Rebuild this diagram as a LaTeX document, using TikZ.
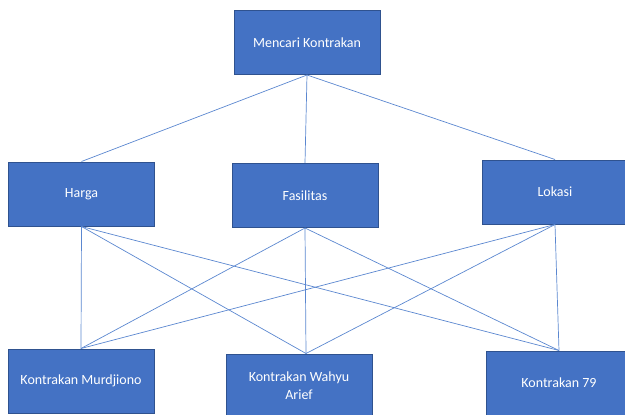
\documentclass[tikz,border=0pt]{standalone}
\usepackage{fontspec}
\setmainfont{Carlito}
\usepackage{tikz}
\usetikzlibrary{positioning}

\definecolor{boxblue}{HTML}{4472C4}
\definecolor{boxedge}{HTML}{2F528F}
\definecolor{linkblue}{HTML}{5B87D0}

\begin{document}
\begin{tikzpicture}[x=1pt,y=-1pt,
    font=\fontsize{14}{18}\selectfont,
    box/.style={draw=boxedge,
        fill=boxblue,
        text=white,
        line width=1pt,
        align=center,
        minimum width=146pt,
        minimum height=64pt},
    link/.style={draw=linkblue,
        line width=0.7pt}]

\useasboundingbox (0,0) rectangle (625,415);

% Goal
\node[box] (goal) at (307,42.5) {Mencari Kontrakan};

% Criteria
\node[box] (harga) at (81.5,194) {Harga};
\node[box] (fasilitas) at (305,195.5) {Fasilitas};
\node[box] (lokasi) at (555,192) {Lokasi};

% Alternatives
\node[box] (murdjiono) at (81,381) {Kontrakan Murdjiono};
\node[box] (wahyu) at (299,386) {Kontrakan Wahyu\\Arief};
\node[box] (k79) at (559,383) {Kontrakan 79};

% Meeting point on top of the middle alternative
\coordinate (wahyutop) at ([xshift=7pt]wahyu.north);

% Goal to criteria
\draw[link] (goal.south) edge (harga.north)
    (goal.south) edge (fasilitas.north)
    (goal.south) edge (lokasi.north);

% Criteria to alternatives
\draw[link] (harga.south) edge (murdjiono.north)
    (harga.south) edge (wahyutop)
    (harga.south) edge (k79.north)
    (fasilitas.south) edge (murdjiono.north)
    (fasilitas.south) edge (wahyutop)
    (fasilitas.south) edge (k79.north)
    (lokasi.south) edge (murdjiono.north)
    (lokasi.south) edge (wahyutop)
    (lokasi.south) edge (k79.north);

\end{tikzpicture}
\end{document}
